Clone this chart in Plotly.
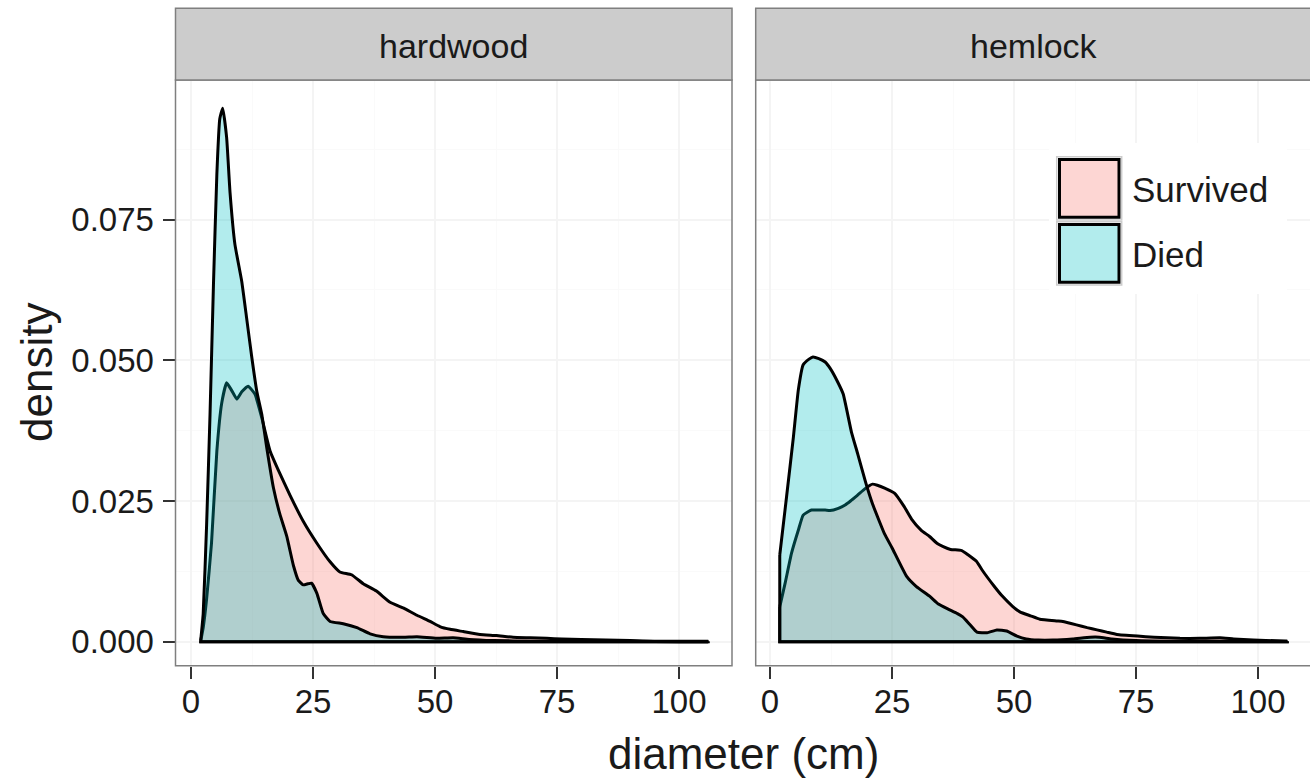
import plotly.graph_objects as go

W, H = 1310, 779

# ---------------- data ----------------
panels = ["hardwood", "hemlock"]
groups = ["Survived", "Died"]

hw_surv_x = [2.0, 2.5, 3.2, 4.2, 5.3, 6.3, 7.3, 8.3, 9.4, 10.4, 11.7, 13.1, 14.5, 16.2, 18.2,
             20.3, 23.0, 25.8, 28.5, 30.5, 32.9, 35.3, 38.0, 40.8, 43.5, 46.3, 49.0, 51.0,
             53.1, 55.8, 59.2, 62.6, 66.0, 69.5, 72.9, 76.0, 80.0, 85.0, 90.0, 95.0, 100.0, 106.0]
hw_surv_y = [0.0002, 0.0025, 0.0076, 0.0175, 0.0339, 0.0424, 0.0460, 0.0447, 0.0431, 0.0444,
             0.0454, 0.0440, 0.0398, 0.0339, 0.0299, 0.0260, 0.0214, 0.0175, 0.0142, 0.0124,
             0.0119, 0.0103, 0.0090, 0.0070, 0.0060, 0.0047, 0.0036, 0.0027, 0.0022, 0.0018,
             0.0013, 0.0011, 0.0008, 0.0007, 0.0006, 0.0005, 0.0004, 0.0003, 0.0002, 0.0001,
             0.0001, 0.0001]

hw_died_x = [2.0, 2.5, 3.2, 3.9, 4.6, 5.3, 5.9, 6.5, 7.3, 8.0, 9.0, 10.4, 11.4, 12.4, 13.5,
             14.5, 15.5, 16.9, 18.2, 19.6, 21.0, 22.0, 23.0, 24.0, 24.7, 25.8, 27.1, 28.5,
             31.2, 34.0, 36.7, 39.4, 43.5, 46.3, 50.3, 53.7, 57.0, 62.0, 70.0, 80.0, 90.0,
             100.0, 106.0]
hw_died_y = [0.0003, 0.0050, 0.0208, 0.0404, 0.0634, 0.0831, 0.0929, 0.0948, 0.0896, 0.0798,
             0.0706, 0.0640, 0.0575, 0.0509, 0.0444, 0.0404, 0.0346, 0.0273, 0.0227, 0.0188,
             0.0135, 0.0109, 0.0101, 0.0103, 0.0104, 0.0086, 0.0050, 0.0036, 0.0032, 0.0025,
             0.0014, 0.0009, 0.0008, 0.0009, 0.0006, 0.0007, 0.0004, 0.0002, 0.0001, 0.0001,
             0.0001, 0.0000, 0.0000]

hl_surv_x = [2.0, 3.1, 4.4, 5.8, 6.8, 8.5, 10.0, 11.3, 12.3, 14.0, 15.4, 16.5, 17.9, 19.5,
             21.0, 22.0, 23.5, 25.5, 27.5, 29.0, 31.0, 32.7, 34.2, 35.5, 37.0, 39.3, 40.5,
             42.3, 43.5, 45.9, 47.5, 49.7, 51.2, 53.4, 55.3, 58.7, 60.0, 62.8, 65.0, 67.0,
             69.0, 71.1, 75.3, 78.7, 84.0, 88.0, 92.2, 95.0, 99.0, 106.0]
hl_surv_y = [0.0062, 0.0104, 0.0157, 0.0198, 0.0225, 0.0234, 0.0234, 0.0234, 0.0233, 0.0237,
             0.0243, 0.0250, 0.0260, 0.0272, 0.0280, 0.0278, 0.0273, 0.0264, 0.0240, 0.0218,
             0.0198, 0.0187, 0.0175, 0.0169, 0.0164, 0.0162, 0.0155, 0.0143, 0.0127, 0.0099,
             0.0082, 0.0063, 0.0053, 0.0046, 0.0040, 0.0037, 0.0036, 0.0030, 0.0025, 0.0021,
             0.0017, 0.0013, 0.0010, 0.0008, 0.0006, 0.0006, 0.0007, 0.0005, 0.0003, 0.0001]

hl_died_x = [2.0, 3.4, 4.8, 5.8, 6.8, 8.0, 8.8, 10.0, 11.3, 12.3, 13.9, 15.0, 16.7, 18.0, 19.6,
             21.0, 23.5, 25.0, 28.0, 30.0, 32.7, 34.5, 36.5, 38.4, 39.5, 41.0, 42.4, 44.5,
             46.5, 48.5, 50.6, 52.5, 55.0, 58.0, 62.0, 65.6, 67.5, 70.0, 75.0, 82.0, 90.0,
             98.0, 106.0]
hl_died_y = [0.0154, 0.0258, 0.0364, 0.0447, 0.0492, 0.0502, 0.0506, 0.0503, 0.0497, 0.0486,
             0.0461, 0.0440, 0.0372, 0.0333, 0.0283, 0.0245, 0.0191, 0.0167, 0.0116, 0.0098,
             0.0081, 0.0067, 0.0058, 0.0050, 0.0044, 0.0030, 0.0017, 0.0016, 0.0021, 0.0019,
             0.0010, 0.0005, 0.0003, 0.0003, 0.0005, 0.0008, 0.0008, 0.0005, 0.0002, 0.0001,
             0.0001, 0.0001, 0.0001]

x_ticks = [0, 25, 50, 75, 100]
x_minor = [12.5, 37.5, 62.5, 87.5]
y_ticks = [0.0, 0.025, 0.05, 0.075]
y_tick_text = ["0.000", "0.025", "0.050", "0.075"]
y_minor = [0.0125, 0.0375, 0.0625, 0.0875]

# ---------------- styling ----------------
FONT = "Liberation Sans, Arial, Helvetica, sans-serif"
FILL = {"Survived": "rgba(248,118,109,0.3)", "Died": "rgba(0,191,196,0.3)"}
GRID_MAJOR = "#F4F4F4"
GRID_MINOR = "#FAFAFA"
BORDER = "#7F7F7F"
LW = 3


def px(x):
    return x / W


def py(y):
    return 1 - y / H


# panel pixel boxes
L_x0, L_x1 = 175.5, 732.0
R_x0, R_x1 = 755.7, 1310.0
P_y0, P_y1 = 80.0, 665.7
S_y0 = 8.3

series = {
    ("hardwood", "Survived"): (hw_surv_x, hw_surv_y),
    ("hardwood", "Died"): (hw_died_x, hw_died_y),
    ("hemlock", "Survived"): (hl_surv_x, hl_surv_y),
    ("hemlock", "Died"): (hl_died_x, hl_died_y),
}

fig = go.Figure()
for i, panel in enumerate(panels):
    xa = "x" if i == 0 else "x2"
    ya = "y" if i == 0 else "y2"
    for g in groups:
        xs, ys = series[(panel, g)]
        # filled area (closed polygon down to the baseline)
        cx = [xs[0]] + list(xs) + [xs[-1], xs[0]]
        cy = [0] + list(ys) + [0, 0]
        fig.add_trace(go.Scatter(
            x=cx, y=cy, mode="lines", fill="toself", fillcolor=FILL[g],
            line=dict(width=0), xaxis=xa, yaxis=ya, showlegend=False, hoverinfo="skip"))
        # outline: smooth density curve
        fig.add_trace(go.Scatter(
            x=xs, y=ys, mode="lines",
            line=dict(color="black", width=LW, shape="spline", smoothing=0.4),
            xaxis=xa, yaxis=ya, name=g, showlegend=False, hoverinfo="skip"))
        # outline: end edges and baseline
        fig.add_trace(go.Scatter(
            x=[xs[-1], xs[-1], xs[0], xs[0]], y=[ys[-1], 0, 0, ys[0]], mode="lines",
            line=dict(color="black", width=LW), xaxis=xa, yaxis=ya,
            showlegend=False, hoverinfo="skip"))

yrange = [-0.00426, 0.0998]
common_x = dict(
    tickvals=x_ticks, ticktext=[str(v) for v in x_ticks], ticks="outside", ticklen=12,
    tickwidth=2, tickcolor="#333333", showgrid=True, gridcolor=GRID_MAJOR, gridwidth=1.5,
    zeroline=False, showline=False,
    tickfont=dict(family=FONT, size=33, color="#1a1a1a"),
    minor=dict(tickvals=x_minor, showgrid=True, gridcolor=GRID_MINOR, gridwidth=1, ticks=""),
    fixedrange=True, ticklabelstandoff=-5,
)
fig.update_layout(
    width=W, height=H, autosize=False,
    margin=dict(l=0, r=0, t=0, b=0),
    paper_bgcolor="white", plot_bgcolor="white", showlegend=False,
    xaxis=dict(common_x, domain=[px(L_x0), px(L_x1)],
               range=[(L_x0 - 191) / 4.88, (L_x1 - 191) / 4.88], anchor="y"),
    xaxis2=dict(common_x, domain=[px(R_x0), px(R_x1)],
                range=[(R_x0 - 770) / 4.88, (R_x1 - 770) / 4.88], anchor="y2"),
    yaxis=dict(domain=[py(P_y1), py(P_y0)], range=yrange, tickvals=y_ticks,
               ticktext=y_tick_text, ticks="outside", ticklen=12, tickwidth=2,
               tickcolor="#333333", showgrid=True, gridcolor=GRID_MAJOR, gridwidth=1.5,
               zeroline=False, showline=False, anchor="x", fixedrange=True,
               tickfont=dict(family=FONT, size=33, color="#1a1a1a"), ticklabelstandoff=2,
               minor=dict(tickvals=y_minor, showgrid=True, gridcolor=GRID_MINOR, gridwidth=1,
                          ticks="")),
    yaxis2=dict(domain=[py(P_y1), py(P_y0)], range=yrange, tickvals=y_ticks,
                showticklabels=False, ticks="", showgrid=True, gridcolor=GRID_MAJOR,
                gridwidth=1.5, zeroline=False, showline=False, anchor="x2", fixedrange=True,
                minor=dict(tickvals=y_minor, showgrid=True, gridcolor=GRID_MINOR, gridwidth=1,
                           ticks="")),
)

shapes = []
annotations = []
# panel borders and strips
strip_centers = [(L_x0 + L_x1) / 2, 1033.5]
for k, (x0, x1) in enumerate([(L_x0, L_x1), (R_x0, R_x1 + 3)]):
    shapes.append(dict(type="rect", xref="paper", yref="paper", x0=px(x0), x1=px(x1),
                       y0=py(P_y1), y1=py(P_y0), line=dict(color=BORDER, width=1.5),
                       fillcolor="rgba(0,0,0,0)", layer="above"))
    shapes.append(dict(type="rect", xref="paper", yref="paper", x0=px(x0), x1=px(x1),
                       y0=py(P_y0), y1=py(S_y0), line=dict(color=BORDER, width=1.5),
                       fillcolor="#CCCCCC", layer="above"))
    annotations.append(dict(text=panels[k], xref="paper", yref="paper",
                            x=px(strip_centers[k]), y=py(45.5), xanchor="center",
                            yanchor="middle", showarrow=False,
                            font=dict(family=FONT, size=34, color="#1a1a1a")))

# legend (inside right panel)
shapes.append(dict(type="rect", xref="paper", yref="paper", x0=px(1049), x1=px(1287),
                   y0=py(294), y1=py(143), line=dict(width=0), fillcolor="white", layer="above"))
for j, g in enumerate(groups):
    top = 156.7 + j * 65.0
    shapes.append(dict(type="rect", xref="paper", yref="paper", x0=px(1056.7), x1=px(1121.7),
                       y0=py(top + 63.3), y1=py(top), line=dict(color="#CCCCCC", width=1.5),
                       fillcolor="white", layer="above"))
    shapes.append(dict(type="rect", xref="paper", yref="paper", x0=px(1059.5), x1=px(1119),
                       y0=py(top + 60.5), y1=py(top + 2.8), line=dict(color="black", width=3),
                       fillcolor=FILL[g], layer="above"))
    annotations.append(dict(text=g, xref="paper", yref="paper", x=px(1130), y=py(top + 33),
                            xanchor="left", yanchor="middle", showarrow=False,
                            font=dict(family=FONT, size=35, color="#1a1a1a")))

# axis titles
annotations.append(dict(text="diameter (cm)", xref="paper", yref="paper", x=px(743.8),
                        y=py(753), xanchor="center", yanchor="middle", showarrow=False,
                        font=dict(family=FONT, size=44, color="#1a1a1a")))
annotations.append(dict(text="density", xref="paper", yref="paper", x=px(36), y=py(373),
                        xanchor="center", yanchor="middle", showarrow=False, textangle=-90,
                        font=dict(family=FONT, size=44, color="#1a1a1a")))

fig.update_layout(shapes=shapes, annotations=annotations)
fig.write_html("out.html", config={"displayModeBar": False})
